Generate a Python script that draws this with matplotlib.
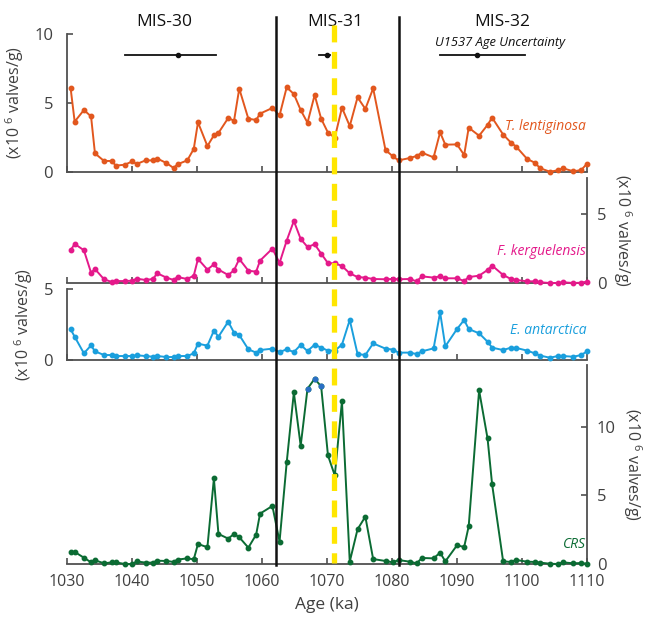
import numpy as np
import matplotlib
matplotlib.use('Agg')
import matplotlib.pyplot as plt
from matplotlib.lines import Line2D
import matplotlib.transforms as mtransforms

# ---------------- data ----------------
ages = [1030.56, 1031.18, 1032.6, 1033.7, 1034.3, 1035.7, 1036.9, 1037.5, 1038.9, 1040.05,
        1040.7, 1042.1, 1043.2, 1043.9, 1045.3, 1046.4, 1047.0, 1048.5, 1049.5, 1050.15,
        1051.6, 1052.6, 1053.3, 1054.8, 1055.7, 1056.5, 1057.9, 1059.1, 1059.7, 1061.6,
        1062.7, 1063.8, 1064.9, 1065.95, 1067.0, 1068.1, 1069.1, 1070.15, 1071.2, 1072.3,
        1073.5, 1074.7, 1075.9, 1077.1, 1079.0, 1080.15, 1081.0, 1082.7, 1083.8, 1084.6,
        1086.4, 1087.4, 1088.2, 1090.0, 1091.1, 1091.8, 1093.4, 1094.7, 1095.4, 1097.1,
        1098.3, 1099.1, 1100.8, 1101.95, 1102.8, 1104.3, 1105.5, 1106.3, 1107.9, 1109.1, 1110.0]

t_lentiginosa = [6.06, 3.65, 4.49, 4.03, 1.35, 0.80, 0.80, 0.46, 0.53, 0.77,
                 0.58, 0.84, 0.84, 0.97, 0.65, 0.29, 0.56, 0.84, 1.67, 3.6,
                 1.88, 2.66, 2.83, 3.91, 3.72, 6.04, 3.86, 3.77, 4.23, 4.64,
                 4.1, 6.14, 5.65, 4.49, 3.57, 5.58, 3.86, 2.85, 2.49, 4.66,
                 3.33, 5.41, 4.57, 6.06, 1.59, 1.13, 0.84, 1.01, 1.16, 1.40,
                 1.06, 2.87, 1.98, 2.0, 1.23, 3.21, 2.63, 3.41, 3.94, 2.71,
                 2.13, 1.84, 0.94, 0.68, 0.27, 0.02, 0.12, 0.27, 0.05, 0.14, 0.6]

f_kerguelensis = [2.37, 2.83, 2.37, 0.75, 1.01, 0.27, 0.07, 0.14, 0.14, 0.17,
                  0.31, 0.22, 0.29, 0.70, 0.39, 0.22, 0.43, 0.29, 0.53, 1.74,
                  0.97, 1.35, 0.97, 0.58, 0.92, 1.74, 0.89, 0.82, 1.62, 2.49,
                  1.45, 3.07, 4.49, 3.19, 2.61, 2.80, 2.13, 1.43, 1.43, 1.23,
                  0.70, 0.43, 0.39, 0.29, 0.27, 0.29, 0.27, 0.29, 0.12, 0.48,
                  0.39, 0.48, 0.34, 0.34, 0.14, 0.43, 0.53, 0.94, 1.26, 0.58,
                  0.29, 0.22, 0.12, 0.12, 0.05, 0.0, 0.0, 0.05, 0.0, 0.02, 0.1]

e_antarctica = [2.16, 1.64, 0.47, 1.03, 0.61, 0.35, 0.35, 0.28, 0.28, 0.28,
                0.33, 0.28, 0.23, 0.28, 0.21, 0.21, 0.28, 0.28, 0.47, 1.15,
                1.01, 2.07, 1.64, 2.70, 1.92, 1.76, 0.75, 0.52, 0.70, 0.80,
                0.56, 0.75, 0.56, 1.06, 0.63, 1.08, 0.87, 0.66, 0.66, 1.08,
                2.82, 0.42, 0.35, 1.17, 0.80, 0.73, 0.52, 0.52, 0.42, 0.61,
                0.82, 3.36, 0.96, 2.18, 2.82, 2.18, 1.88, 1.29, 0.87, 0.70,
                0.87, 0.85, 0.66, 0.47, 0.31, 0.16, 0.28, 0.28, 0.23, 0.35, 0.61]

crs = [0.85, 0.88, 0.46, 0.12, 0.27, 0.05, 0.12, 0.12, 0.0, 0.0,
       0.19, 0.1, 0.1, 0.24, 0.22, 0.15, 0.32, 0.41, 0.34, 1.46,
       1.22, 6.23, 2.19, 1.85, 2.19, 1.95, 1.19, 2.14, 3.67, 4.23,
       1.63, 7.40, 12.5, 8.61, 12.77, 13.5, 12.94, 7.91, 6.45, 11.85,
       0.17, 2.53, 3.45, 0.36, 0.22, 0.12, 0.29, 0.17, 0.05, 0.44,
       0.41, 0.83, 0.19, 1.36, 1.24, 2.75, 12.65, 9.15, 5.81, 0.19,
       0.15, 0.29, 0.17, 0.15, 0.1, 0.02, 0.0, 0.12, 0.05, 0.07, 0.02]
crs_highlight_idx = [34, 35, 36]

mis_labels = ['MIS-30', 'MIS-31', 'MIS-32']
mis_x = [1045.0, 1071.2, 1096.9]
boundaries = [1062.2, 1081.0]
event_age = 1071.0
unc_center = [1047.0, 1070.0, 1093.0]
unc_low = [1038.9, 1068.7, 1087.4]
unc_high = [1052.9, 1070.5, 1100.4]
xticks = [1030, 1040, 1050, 1060, 1070, 1080, 1090, 1100, 1110]

# ---------------- style ----------------
plt.rcParams['font.family'] = ['Open Sans', 'DejaVu Sans']
plt.rcParams['mathtext.fontset'] = 'custom'
plt.rcParams['mathtext.rm'] = 'Open Sans'
plt.rcParams['mathtext.it'] = 'Open Sans:italic'

c_orange = '#E2571E'
c_magenta = '#E4198A'
c_cyan = '#1A9FDD'
c_green = '#0B6B33'
c_blue = '#2A6FC4'
spine_c = '#505050'
text_c = '#404040'

W, H = 646, 631
fig = plt.figure(figsize=(W / 100, H / 100), dpi=100)

ylab = r'(x10 $^{6}$ valves/g)'

panels = [
    # top, bottom, ymax, side, yticks, data, color, name, name_y
    (34, 172, 10.0, 'left', [0, 5, 10], t_lentiginosa, c_orange, 'T. lentiginosa', 3.3),
    (178, 283, 7.6, 'right', [0, 5], f_kerguelensis, c_magenta, 'F. kerguelensis', 2.27),
    (289, 360, 5.0, 'left', [0, 5], e_antarctica, c_cyan, 'E. antarctica', 2.06),
    (365, 564, 14.5, 'right', [0, 5, 10], crs, c_green, 'CRS', 1.39),
]

axes = []
for i, (top, bot, ymax, side, yt, data, col, name, ny) in enumerate(panels):
    ax = fig.add_axes([67 / W, 1 - bot / H, 520 / W, (bot - top) / H])
    ax.set_facecolor('none')
    ax.set_xlim(1030, 1110)
    ax.set_ylim(0, ymax)
    for s in ['top', 'left', 'right']:
        ax.spines[s].set_visible(False)
    ax.spines[side].set_visible(True)
    for s in ['bottom', side]:
        ax.spines[s].set_color(spine_c)
        ax.spines[s].set_linewidth(1.3)
    ax.set_xticks(xticks)
    ax.set_yticks(yt)
    ax.tick_params(axis='both', direction='in', length=4, width=1.2, color=spine_c,
                   labelcolor=text_c, labelsize=12)
    if side == 'right':
        ax.yaxis.tick_right()
        ax.yaxis.set_label_position('right')
        ax.tick_params(axis='y', pad=7)
        ax.set_ylabel(ylab, rotation=270, fontsize=11.5, color=text_c, labelpad=20)
    else:
        ax.tick_params(axis='y', pad=10)
        ax.set_ylabel(ylab, fontsize=11.5, color=text_c, labelpad=6)
    ax.tick_params(axis='x', pad=7)
    if i < 3:
        ax.tick_params(axis='x', labelbottom=False)
    else:
        ax.tick_params(axis='x', labelsize=11.5)
        ax.set_xlabel('Age (ka)', fontsize=12.5, color=text_c, labelpad=5)
    ax.plot(ages, data, color=col, lw=1.4, marker='o', ms=3.2, mec=col, mfc=col, clip_on=False, zorder=3)
    ax.text(1109.9, ny, name, color=col, fontsize=10, style='italic', ha='right', va='center')
    axes.append(ax)

# highlighted CRS samples
ax4 = axes[3]
ax4.plot([ages[k] for k in crs_highlight_idx], [crs[k] for k in crs_highlight_idx],
         ls='none', marker='o', ms=3.2, color=c_blue, zorder=4, clip_on=False)

# top annotations
ax1 = axes[0]
for lab, x in zip(mis_labels, mis_x):
    ax1.text(x, 10.9, lab, fontsize=12.5, color='#111111', ha='center', va='center', clip_on=False)
for c, lo, hi in zip(unc_center, unc_low, unc_high):
    ax1.plot([lo, hi], [8.48, 8.48], color='#111111', lw=1.3, clip_on=False, zorder=4)
    ax1.plot([c], [8.48], 'o', color='#111111', ms=3, clip_on=False, zorder=4)
ax1.text(1096.6, 9.42, 'U1537 Age Uncertainty', fontsize=9.3, style='italic',
         color='#111111', ha='center', va='center', clip_on=False)

# vertical stage boundaries and event line spanning all panels
trans = mtransforms.blended_transform_factory(ax4.transData, fig.transFigure)
for b in boundaries:
    fig.add_artist(Line2D([b, b], [1 - 17 / H, 1 - 565 / H], transform=trans,
                          color='#111111', lw=1.8, zorder=5))
fig.add_artist(Line2D([event_age, event_age], [1 - 25 / H, 1 - 563 / H], transform=trans,
                      color='#FFE600', lw=3.8, ls=(0, (3.2, 1.8)), zorder=6))

fig.savefig('out.png', dpi=100)
